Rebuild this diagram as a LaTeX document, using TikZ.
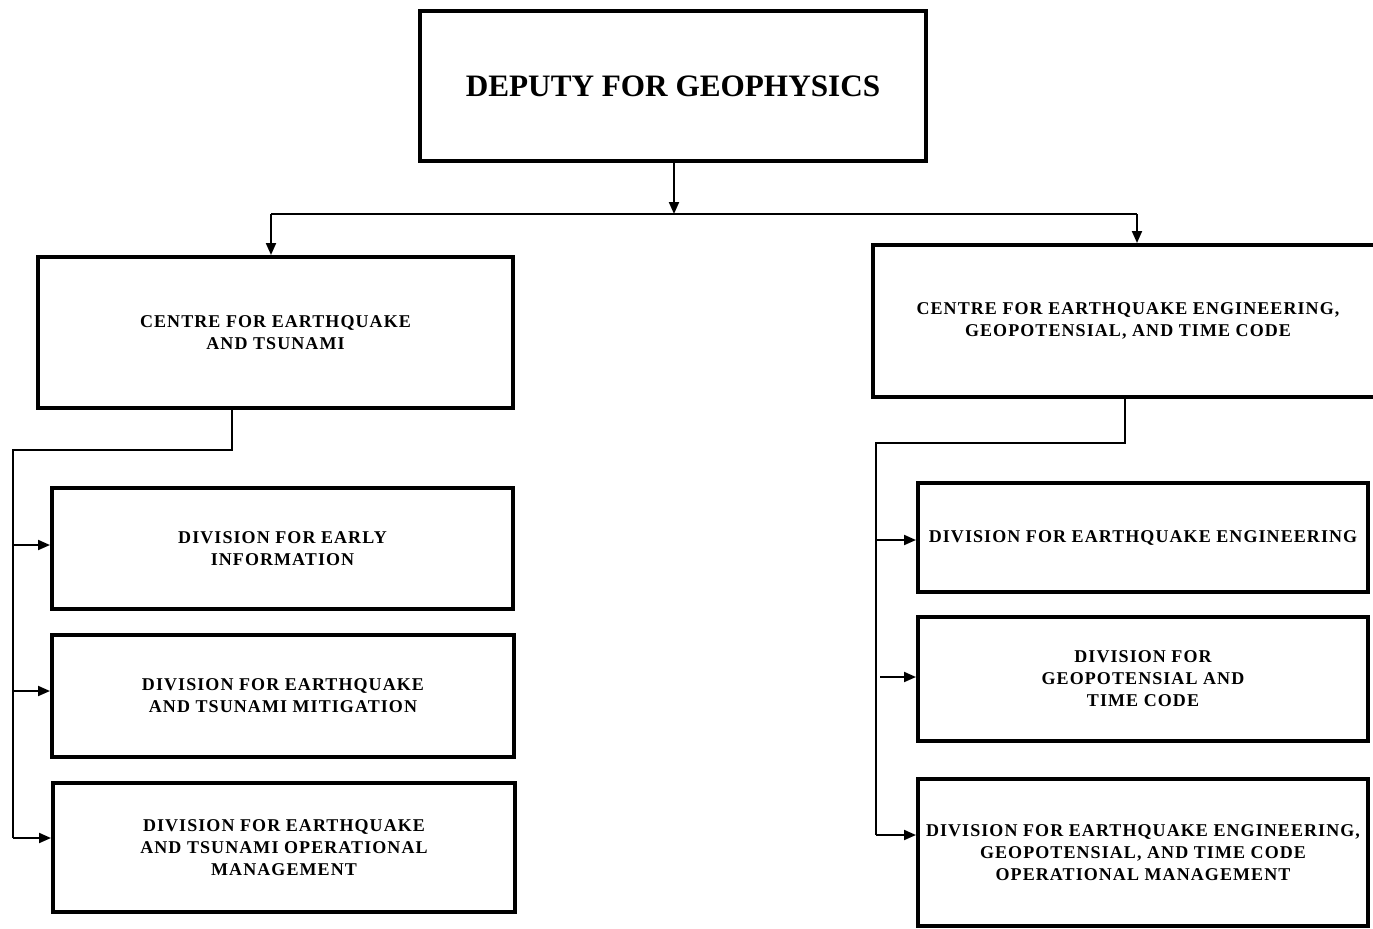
\documentclass[tikz,border=0pt]{standalone}
\usepackage{fontspec}
\setmainfont{Liberation Serif}
\usetikzlibrary{arrows.meta}
\newfontfamily\boxfont[LetterSpace=6]{Liberation Serif}
\begin{document}
\begin{tikzpicture}[x=0.5pt,y=-0.5pt,
  box/.style={draw=black,line width=2pt,rectangle,inner sep=0pt,align=center,
    font=\boxfont\bfseries\fontsize{9pt}{11pt}\selectfont},
  conn/.style={draw=black,line width=1pt},
  arr/.style={conn,-{Triangle[length=6pt,width=5pt]}}]
\useasboundingbox (0,0) rectangle (1373,928);
\clip (0,0) rectangle (1373,928);
\fill[white] (0,0) rectangle (1373,928);

% top
\node[box,minimum width=253pt,minimum height=75pt,
  font=\bfseries\fontsize{15.6pt}{18pt}\selectfont] (top) at (673,86) {DEPUTY FOR GEOPHYSICS};

% centres
\node[box,minimum width=237.5pt,minimum height=75.5pt] (lc) at (275.5,332.5)
  {CENTRE FOR EARTHQUAKE\\AND TSUNAMI};
\node[box,minimum width=255pt,minimum height=76pt] (rc) at (1128,321)
  {CENTRE FOR EARTHQUAKE ENGINEERING,\\GEOPOTENSIAL, AND TIME CODE};

% left divisions
\node[box,minimum width=230.5pt,minimum height=60.5pt] (d1) at (282.5,548.5)
  {DIVISION FOR EARLY\\INFORMATION};
\node[box,minimum width=231pt,minimum height=61pt] (d2) at (283,696)
  {DIVISION FOR EARTHQUAKE\\AND TSUNAMI MITIGATION};
\node[box,minimum width=231pt,minimum height=64.5pt] (d3) at (284,847.5)
  {DIVISION FOR EARTHQUAKE\\AND TSUNAMI OPERATIONAL\\MANAGEMENT};

% right divisions
\node[box,minimum width=225pt,minimum height=54.5pt] (r1) at (1143,537.5)
  {DIVISION FOR EARTHQUAKE ENGINEERING};
\node[box,minimum width=225pt,minimum height=62pt] (r2) at (1143,679)
  {DIVISION FOR\\GEOPOTENSIAL AND\\TIME CODE};
\node[box,minimum width=225pt,minimum height=73.5pt] (r3) at (1143,852.5)
  {DIVISION FOR EARTHQUAKE ENGINEERING,\\GEOPOTENSIAL, AND TIME CODE\\OPERATIONAL MANAGEMENT};

% top distribution
\coordinate (hb) at (674,214);
\coordinate (hl) at (271,214);
\coordinate (hr) at (1137,214);
\draw[arr] (top.south -| hb) -- (hb);
\draw[conn] (hl) -- (hr);
\draw[arr] (hl) -- (hl |- lc.north);
\draw[arr] (hr) -- (hr |- rc.north);

% left bus
\coordinate (ls) at (232,450);
\coordinate (lt) at (13,450);
\coordinate (la1) at (13,545);
\coordinate (la2) at (13,691);
\coordinate (la3) at (13,838);
\draw[conn] (ls |- lc.south) -- (ls) -- (lt) -- (la3);
\draw[arr] (la1) -- (la1 -| d1.west);
\draw[arr] (la2) -- (la2 -| d2.west);
\draw[arr] (la3) -- (la3 -| d3.west);

% right bus
\coordinate (rs) at (1125,443);
\coordinate (rt) at (876,443);
\coordinate (ra1) at (876,540);
\coordinate (ra2) at (880,677);
\coordinate (ra3) at (876,835);
\draw[conn] (rs |- rc.south) -- (rs) -- (rt) -- (ra3);
\draw[arr] (ra1) -- (ra1 -| r1.west);
\draw[arr] (ra2) -- (ra2 -| r2.west);
\draw[arr] (ra3) -- (ra3 -| r3.west);
\end{tikzpicture}
\end{document}
